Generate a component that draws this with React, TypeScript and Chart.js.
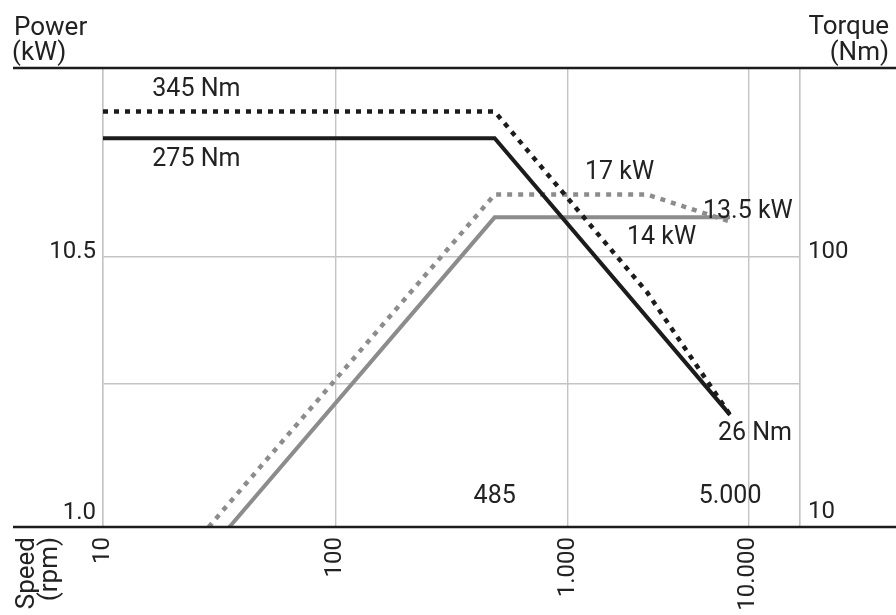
import React, { useEffect, useRef } from 'react';
import { Chart, registerables } from 'chart.js';

Chart.register(...registerables);

// ---- data ----
const speedTorque275 = [10, 485, 5000];
const torque275 = [275, 275, 26];
const speedTorque345 = [10, 485, 2200, 5000];
const torque345 = [345, 345, 73.8, 26];
const speedPower14 = [35, 485, 5000];
const power14 = [1.0, 14, 14];
const speedPower17 = [28.5, 485, 2200, 5000];
const power17 = [1.0, 17, 17, 13.5];

const xTickValues = [10, 100, 1000, 5990, 10000];
const xTickLabels = ['10', '100', '1.000', '10.000', ''];
const powerTickValues = [1, 3.4, 10];
const powerTickLabels = ['1.0', '', '10.5'];
const torqueTickValues = [10, 100];
const torqueTickLabels = ['10', '100'];

const torqueNoteTexts = ['345 Nm', '275 Nm', '26 Nm'];
const torqueNoteSpeeds = [16.3, 16.3, 4436];
const torqueNoteValues = [414, 228, 22.1];
const powerNoteTexts = ['17 kW', '14 kW', '13.5 kW'];
const powerNoteSpeeds = [1187, 1800, 3823];
const powerNoteValues = [20.4, 11.8, 14.65];
const speedNoteTexts = ['485', '5.000'];
const speedNoteSpeeds = [485, 5000];
const speedNoteValues = [1.29, 1.29];

const FONT = 'Roboto, "DejaVu Sans", sans-serif';
const TEXT = '#222222';
const GRID = '#c4c4c4';
const BLACK = '#1c1c1c';
const GRAY = '#8c8c8c';

function pts(xs: number[], ys: number[]) {
  return xs.map((x, i) => ({ x, y: ys[i] }));
}

const decorPlugin = {
  id: 'decor',
  afterDatasetsDraw(chart: any) {
    const { ctx, scales } = chart;
    const x = scales.x;
    const p = scales.power;
    const t = scales.torque;
    ctx.save();
    ctx.fillStyle = TEXT;
    ctx.font = `25px ${FONT}`;
    ctx.textBaseline = 'middle';
    ctx.textAlign = 'left';
    torqueNoteTexts.forEach((s, i) => {
      ctx.fillText(s, x.getPixelForValue(torqueNoteSpeeds[i]), t.getPixelForValue(torqueNoteValues[i]));
    });
    powerNoteTexts.forEach((s, i) => {
      ctx.fillText(s, x.getPixelForValue(powerNoteSpeeds[i]), p.getPixelForValue(powerNoteValues[i]));
    });
    ctx.textAlign = 'center';
    speedNoteTexts.forEach((s, i) => {
      ctx.fillText(s, x.getPixelForValue(speedNoteSpeeds[i]), p.getPixelForValue(speedNoteValues[i]));
    });
    ctx.restore();
  },
  afterDraw(chart: any) {
    const { ctx, chartArea, width } = chart;
    ctx.save();
    ctx.strokeStyle = BLACK;
    ctx.lineWidth = 2.6;
    [chartArea.top, chartArea.bottom].forEach((y: number) => {
      ctx.beginPath();
      ctx.moveTo(13, y);
      ctx.lineTo(width, y);
      ctx.stroke();
    });
    ctx.fillStyle = TEXT;
    ctx.font = `26px ${FONT}`;
    ctx.textBaseline = 'alphabetic';
    ctx.textAlign = 'left';
    ctx.fillText('Power', 14, chartArea.top - 33);
    ctx.fillText('(kW)', 12, chartArea.top - 8);
    ctx.textAlign = 'right';
    ctx.fillText('Torque', width - 7, chartArea.top - 34);
    ctx.fillText('(Nm)', width - 7, chartArea.top - 8);
    ctx.translate(0, chartArea.bottom + 10);
    ctx.rotate(-Math.PI / 2);
    ctx.textAlign = 'right';
    ctx.fillText('Speed', 0, 34);
    ctx.fillText('(rpm)', 0, 57);
    ctx.restore();
  },
};

export default function App() {
  const ref = useRef<HTMLCanvasElement | null>(null);
  useEffect(() => {
    if (!ref.current) return;
    const chart = new Chart(ref.current, {
      type: 'line',
      data: {
        datasets: [
          {
            label: '345 Nm',
            data: pts(speedTorque345, torque345),
            yAxisID: 'torque',
            borderColor: BLACK,
            borderWidth: 4.5,
            borderDash: [5, 6],
            borderCapStyle: 'butt',
            pointRadius: 0,
          },
          {
            label: '275 Nm',
            data: pts(speedTorque275, torque275),
            yAxisID: 'torque',
            borderColor: BLACK,
            borderWidth: 4,
            pointRadius: 0,
          },
          {
            label: '17 kW',
            data: pts(speedPower17, power17),
            yAxisID: 'power',
            borderColor: GRAY,
            borderWidth: 4.5,
            borderDash: [5, 6],
            borderCapStyle: 'butt',
            pointRadius: 0,
          },
          {
            label: '14 kW',
            data: pts(speedPower14, power14),
            yAxisID: 'power',
            borderColor: GRAY,
            borderWidth: 4,
            pointRadius: 0,
          },
        ],
      },
      options: {
        responsive: false,
        animation: false,
        layout: { padding: { top: 68, left: 0, right: 0, bottom: 0 } },
        plugins: { legend: { display: false }, tooltip: { enabled: false } },
        scales: {
          x: {
            type: 'logarithmic',
            position: 'bottom',
            min: 10,
            max: 10000,
            afterBuildTicks: (s: any) => {
              s.ticks = xTickValues.map((v) => ({ value: v }));
            },
            afterFit: (s: any) => {
              s.height = 88;
            },
            grid: { color: GRID, lineWidth: 1.4, drawTicks: false },
            border: { display: false },
            ticks: {
              autoSkip: false,
              minRotation: 90,
              maxRotation: 90,
              padding: 10,
              color: TEXT,
              font: { family: FONT, size: 24 },
              callback: (_v: any, i: number) => xTickLabels[i],
            },
          },
          power: {
            type: 'logarithmic',
            position: 'left',
            min: 1,
            max: 50,
            afterBuildTicks: (s: any) => {
              s.ticks = powerTickValues.map((v) => ({ value: v }));
            },
            afterFit: (s: any) => {
              s.width = 103;
            },
            grid: { color: GRID, lineWidth: 1.4, drawTicks: false },
            border: { display: true, color: GRID, width: 1.4 },
            ticks: {
              padding: 7,
              color: TEXT,
              font: (c: any) => ({
                family: FONT,
                size: 24,
                lineHeight: c.index === 0 ? '28px' : '10px',
              }),
              callback: (_v: any, i: number) => [powerTickLabels[i], ''],
            },
          },
          torque: {
            type: 'logarithmic',
            position: 'right',
            min: 10,
            max: 500,
            afterBuildTicks: (s: any) => {
              s.ticks = torqueTickValues.map((v) => ({ value: v }));
            },
            afterFit: (s: any) => {
              s.width = 96;
            },
            grid: { drawOnChartArea: false, drawTicks: false },
            border: { display: true, color: GRID, width: 1.4 },
            ticks: {
              padding: 8,
              color: TEXT,
              font: (c: any) => ({
                family: FONT,
                size: 24,
                lineHeight: c.index === 0 ? '30px' : '10px',
              }),
              callback: (_v: any, i: number) => [torqueTickLabels[i], ''],
            },
          },
        },
      },
      plugins: [decorPlugin],
    } as any);
    return () => chart.destroy();
  }, []);

  return (
    <div style={{ position: 'fixed', left: 0, top: 0, width: 896, height: 615, background: '#ffffff' }}>
      <canvas ref={ref} width={896} height={615} style={{ display: 'block' }} />
    </div>
  );
}
